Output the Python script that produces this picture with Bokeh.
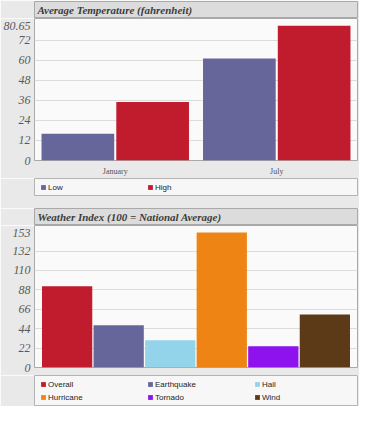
from bokeh.plotting import figure
from bokeh.models import (FactorRange, FixedTicker, Legend, LegendItem, Label,
                          ColumnDataSource, Range1d, CustomJSTickFormatter)
from bokeh.transform import dodge
from bokeh.layouts import column
from bokeh.embed import file_html
from bokeh.resources import INLINE

# ---- data ----
months = ["January", "July"]
temp_low = [16, 61]
temp_high = [35, 80.65]
temp_ticks = [0, 12, 24, 36, 48, 60, 72, 80.65]
temp_series = ["Low", "High"]

hazards = ["Overall", "Earthquake", "Hail", "Hurricane", "Tornado", "Wind"]
hazard_index = [92, 48, 31, 153, 24, 60]
index_ticks = [0, 22, 44, 66, 88, 110, 132, 153]

# ---- style ----
LOW_C = "#66669a"
HIGH_C = "#c11c2e"
TEMP_COLORS = [LOW_C, HIGH_C]
HAZ_COLORS = ["#c11c2e", "#66669a", "#94d4ea", "#ee8414", "#8e12ee", "#5c3a17"]
PAGE_BG = "#e9e9e9"
FRAME_BG = "#fafafa"
GRID_C = "#dcdcdc"
EDGE_C = "#a9a9a9"
TITLE_BG = "#dcdcdc"
SERIF = "Liberation Serif"
SANS = "Liberation Sans"
W = 359
FL, FR = 30, 2


def strip(height, top, bottom, fill, edge, x_range=None):
    p = figure(width=W, height=height,
               x_range=x_range if x_range is not None else Range1d(0, 1),
               y_range=Range1d(0, 1),
               output_backend="svg", toolbar_location=None,
               x_axis_location=None, y_axis_location=None,
               min_border_left=FL, min_border_right=FR,
               min_border_top=top, min_border_bottom=bottom)
    p.border_fill_color = PAGE_BG
    p.background_fill_color = fill
    p.outline_line_color = edge
    p.grid.visible = False
    return p


def title_strip(text, top):
    p = strip(17 + top, top, 0, TITLE_BG, EDGE_C)
    p.add_layout(Label(x=0, y=0.5, x_offset=3, text=text, text_font=SERIF,
                       text_font_style="bold italic", text_font_size="11px",
                       text_color="#3c3c3c", text_baseline="middle", text_align="left"))
    return p


def legend_strip(labels, colors, box_h, bottom, vy):
    p = strip(box_h + bottom, 0, bottom, "#f7f7f7", "#b4b4b4",
              x_range=FactorRange(*labels))
    src = ColumnDataSource(dict(name=labels, color=colors))
    # zero-height keys: they only feed the legend swatches
    r = p.vbar(x="name", top=0, width=0.5, source=src, fill_color="color", line_color=None)
    items = [LegendItem(label=lab, renderers=[r], index=i) for i, lab in enumerate(labels)]
    p.add_layout(Legend(items=items, location=(6, vy), orientation="horizontal", ncols=3,
                        glyph_width=6, glyph_height=6, label_standoff=2, label_width=96,
                        label_height=10, spacing=3, padding=0, margin=0,
                        border_line_color=None, background_fill_alpha=0,
                        label_text_font=SANS, label_text_font_size="8px",
                        label_text_color="#1e1e1e"))
    return p


def chart(height, bottom, x_range, y_end, ticks, xaxis=True):
    p = figure(width=W, height=height, x_range=x_range, y_range=Range1d(0, y_end),
               output_backend="svg", toolbar_location=None,
               x_axis_location="below" if xaxis else None,
               min_border_left=FL, min_border_right=FR,
               min_border_top=0, min_border_bottom=bottom)
    p.border_fill_color = PAGE_BG
    p.background_fill_color = FRAME_BG
    p.outline_line_color = EDGE_C
    for g in p.xgrid:
        g.grid_line_color = None
    p.ygrid.grid_line_color = GRID_C
    p.ygrid.ticker = FixedTicker(ticks=ticks[:-1])
    ya = p.yaxis[0]
    ya.ticker = FixedTicker(ticks=ticks)
    ya.formatter = CustomJSTickFormatter(code="return tick.toString()")
    ya.axis_line_color = None
    ya.major_tick_line_color = None
    ya.minor_tick_line_color = None
    ya.major_tick_out = 0
    ya.major_tick_in = 0
    ya.minor_tick_out = 0
    ya.major_label_standoff = 4
    ya.major_label_text_font = SERIF
    ya.major_label_text_font_style = "italic"
    ya.major_label_text_font_size = "12px"
    ya.major_label_text_color = "#5a5a5a"
    for xa in p.xaxis:
        xa.axis_line_color = None
        xa.major_tick_line_color = None
        xa.minor_tick_line_color = None
        xa.major_tick_out = 0
        xa.major_tick_in = 0
        xa.minor_tick_out = 0
        xa.major_label_standoff = 6
        xa.major_label_text_font = SERIF
        xa.major_label_text_font_size = "8px"
        xa.major_label_text_color = "#555555"
    return p


# ---- chart 1: temperature ----
t1 = title_strip("Average Temperature (fahrenheit)", 1)
c1 = chart(160, 18, FactorRange(*months, range_padding=0), 85, temp_ticks)
src1 = ColumnDataSource(dict(month=months, low=temp_low, high=temp_high))
c1.vbar(x=dodge("month", -0.2315, range=c1.x_range), top="low", width=0.45,
        source=src1, fill_color=LOW_C, line_color=None)
c1.vbar(x=dodge("month", 0.2315, range=c1.x_range), top="high", width=0.45,
        source=src1, fill_color=HIGH_C, line_color=None)
l1 = legend_strip(temp_series, TEMP_COLORS, 17, 13, 3)

# ---- chart 2: weather index ----
t2 = title_strip("Weather Index (100 = National Average)", 0)
c2 = chart(150, 8, FactorRange(*hazards, range_padding=0.133,
                               range_padding_units="absolute"),
           161, index_ticks, xaxis=False)
src2 = ColumnDataSource(dict(hazard=hazards, value=hazard_index, color=HAZ_COLORS))
c2.vbar(x="hazard", top="value", width=0.975, source=src2,
        fill_color="color", line_color=None)
l2 = legend_strip(hazards, HAZ_COLORS, 30, 1, 3)

layout = column(t1, c1, l1, t2, c2, l2)
open("out.html", "w").write(file_html(layout, INLINE))
